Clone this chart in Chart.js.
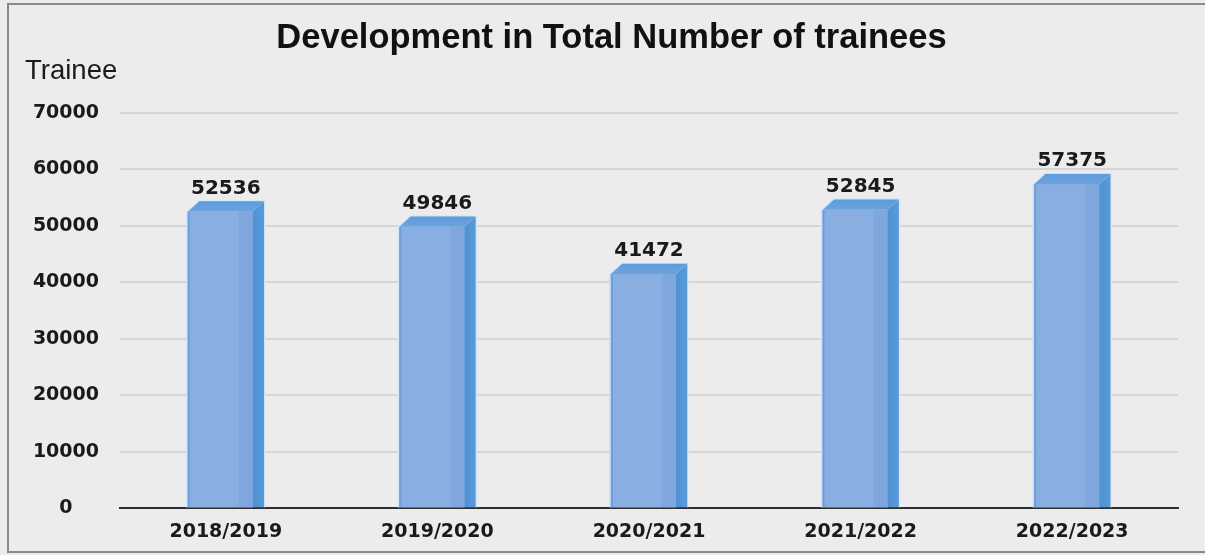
<!DOCTYPE html>
<html>
<head>
<meta charset="utf-8">
<script src="https://cdn.jsdelivr.net/npm/chart.js@4/dist/chart.umd.min.js"></script>
<style>
  html, body { margin: 0; padding: 0; background: #ececec; }
  #wrap { width: 1205px; height: 555px; }
</style>
</head>
<body>
<div id="wrap"><canvas id="c" width="1205" height="555"></canvas></div>
<script>
// Academic years and trainee totals
const years = ['2018/2019', '2019/2020', '2020/2021', '2021/2022', '2022/2023'];
const trainees = [52536, 49846, 41472, 52845, 57375];
const yTicks = [0, 10000, 20000, 30000, 40000, 50000, 60000, 70000];

const chartTitle = 'Development in Total Number of trainees';
const yLabel = 'Trainee';

// depth of the extruded side/top faces, in pixels
const DEPTH_X = 12;
const DEPTH_Y = 11;
const SHIFT = DEPTH_X / 2;

// panel background, frame, heading and axis caption
const background = {
  id: 'background',
  beforeDraw(chart) {
    const ctx = chart.ctx;
    ctx.save();
    ctx.fillStyle = '#ececec';
    ctx.fillRect(0, 0, chart.width, chart.height);
    ctx.strokeStyle = '#8a8a8a';
    ctx.lineWidth = 2;
    ctx.strokeRect(8, 4, chart.width + 10, chart.height - 7);

    ctx.fillStyle = '#111111';
    ctx.textBaseline = 'middle';
    ctx.textAlign = 'center';
    ctx.font = 'bold 34.5px "Liberation Sans", Arial, sans-serif';
    ctx.fillText(chartTitle, 611.5, 38);

    ctx.fillStyle = '#1a1a1a';
    ctx.textAlign = 'left';
    ctx.font = '27.5px "Liberation Sans", Arial, sans-serif';
    ctx.fillText(yLabel, 25, 71);
    ctx.restore();
  }
};

// Draws the bars' front faces shifted left, then adds side and top faces
const bars3d = {
  id: 'bars3d',
  beforeDatasetsDraw(chart) {
    chart.ctx.save();
    chart.ctx.translate(-SHIFT, 0);
  },
  afterDatasetsDraw(chart) {
    const ctx = chart.ctx;
    ctx.restore();
    ctx.save();
    const meta = chart.getDatasetMeta(0);
    meta.data.forEach((el, i) => {
      const { x, y, base, width } = el.getProps(['x', 'y', 'base', 'width'], true);
      const cx = x - SHIFT;
      const L = cx - width / 2;
      const R = cx + width / 2;

      // shading inside the front face
      ctx.fillStyle = 'rgba(95,145,215,0.55)';
      ctx.fillRect(L, y, 3, base - y);
      ctx.fillStyle = 'rgba(110,155,215,0.35)';
      ctx.fillRect(R - 14, y, 14, base - y);

      // side face
      ctx.beginPath();
      ctx.moveTo(R, y);
      ctx.lineTo(R + DEPTH_X, y - DEPTH_Y);
      ctx.lineTo(R + DEPTH_X, base);
      ctx.lineTo(R, base);
      ctx.closePath();
      const sg = ctx.createLinearGradient(R, 0, R + DEPTH_X, 0);
      sg.addColorStop(0, '#4e92d5');
      sg.addColorStop(1, '#5a9bd9');
      ctx.fillStyle = sg;
      ctx.fill();

      // top face
      ctx.beginPath();
      ctx.moveTo(L, y);
      ctx.lineTo(L + DEPTH_X, y - DEPTH_Y);
      ctx.lineTo(R + DEPTH_X, y - DEPTH_Y);
      ctx.lineTo(R, y);
      ctx.closePath();
      const tg = ctx.createLinearGradient(0, y - DEPTH_Y, 0, y);
      tg.addColorStop(0, '#5e9adb');
      tg.addColorStop(1, '#6ca3de');
      ctx.fillStyle = tg;
      ctx.fill();

      // soft light rim around the whole block
      ctx.beginPath();
      ctx.moveTo(L, base);
      ctx.lineTo(L, y);
      ctx.lineTo(L + DEPTH_X, y - DEPTH_Y);
      ctx.lineTo(R + DEPTH_X, y - DEPTH_Y);
      ctx.lineTo(R + DEPTH_X, base);
      ctx.strokeStyle = 'rgba(215,236,250,0.9)';
      ctx.lineWidth = 1.5;
      ctx.stroke();

      // value label
      ctx.fillStyle = '#1a1a1a';
      ctx.font = 'bold 20px "DejaVu Sans", sans-serif';
      ctx.textAlign = 'center';
      ctx.textBaseline = 'middle';
      ctx.fillText(String(trainees[i]), x, y - 23);
    });
    ctx.restore();
  }
};

new Chart(document.getElementById('c'), {
  type: 'bar',
  data: {
    labels: years,
    datasets: [{
      data: trainees,
      backgroundColor: '#89aee2',
      borderWidth: 0,
      barThickness: 66
    }]
  },
  options: {
    responsive: false,
    animation: false,
    devicePixelRatio: 1,
    layout: { padding: { left: 25, right: 27, top: 113, bottom: 0 } },
    plugins: {
      legend: { display: false },
      tooltip: { enabled: false },
      title: { display: false }
    },
    scales: {
      x: {
        grid: { display: false, drawTicks: false },
        border: { display: true, color: '#2e2e2e', width: 2 },
        ticks: {
          color: '#1a1a1a',
          padding: 12,
          font: { family: '"DejaVu Sans", sans-serif', size: 19, weight: 'bold', lineHeight: 1.2 }
        }
      },
      y: {
        min: 0,
        max: 70000,
        afterBuildTicks(scale) {
          scale.ticks = yTicks.map(v => ({ value: v }));
        },
        afterFit(scale) { scale.width = 95; },
        grid: {
          color: (c) => c.tick && c.tick.value === 0 ? 'rgba(0,0,0,0)' : '#d6d6d6',
          lineWidth: 2,
          drawTicks: false
        },
        border: { display: false },
        ticks: {
          color: '#1a1a1a',
          crossAlign: 'center',
          padding: 21,
          callback: (v) => String(v),
          font: { family: '"DejaVu Sans", sans-serif', size: 19, weight: 'bold' }
        }
      }
    }
  },
  plugins: [background, bars3d]
});
</script>
</body>
</html>
